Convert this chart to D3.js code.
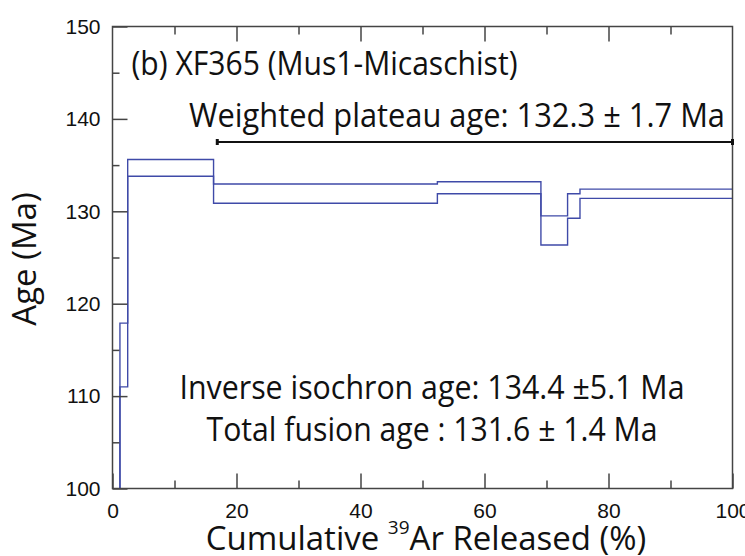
<!DOCTYPE html>
<html lang="en">
<head>
    <meta charset="UTF-8">
    <title>XF365 Ar-Ar age spectrum</title>
    <script src="https://cdnjs.cloudflare.com/ajax/libs/d3/7.8.5/d3.min.js"></script>
    <style>
        body {
            margin: 0;
            background: #ffffff;
            font-family: 'Open Sans', sans-serif;
        }
        .tick text {
            font-size: 21px;
            fill: #111;
        }
        .tick line, .frame {
            stroke: #444;
            stroke-width: 1.5px;
        }
        .step {
            fill: none;
            stroke: #3f4aa8;
            stroke-width: 1.4px;
        }
        .note {
            fill: #111;
        }
    </style>
</head>
<body>
    <div id="chart"></div>
    <script>
        // cumulative 39Ar released (%) at the start of each heating step, last value closes the spectrum
        const stepBounds = [0, 1.2, 2.45, 16.3, 52.4, 69.1, 73.4, 75.4, 100];
        // age envelope (Ma) of each step: upper and lower bound
        const ageUpper = [96, 117.9, 135.6, 132.95, 133.2, 129.5, 131.9, 132.4];
        const ageLower = [88, 111.0, 133.8, 130.87, 131.9, 126.35, 129.24, 131.4];

        // plateau bar: steps included and its drawn level
        const plateauRange = [16.9, 100];
        const plateauLevel = 137.5;

        const xMajor = [0, 20, 40, 60, 80, 100];
        const xMinor = [10, 30, 50, 70, 90];
        const yMajor = [100, 110, 120, 130, 140, 150];
        const yMinor = [105, 115, 125, 135, 145];

        const W = 745, H = 556;
        const margin = {top: 26.5, right: 12.5, bottom: 67.5, left: 112.5};
        const w = W - margin.left - margin.right;
        const h = H - margin.top - margin.bottom;

        const x = d3.scaleLinear().domain([0, 100]).range([0, w]);
        const y = d3.scaleLinear().domain([100, 150]).range([h, 0]);

        const svg = d3.select("#chart").append("svg")
            .attr("width", W)
            .attr("height", H);

        const g = svg.append("g")
            .attr("transform", `translate(${margin.left},${margin.top})`);

        g.append("clipPath").attr("id", "plot")
            .append("rect").attr("width", w).attr("height", h);

        // age spectrum: upper and lower envelopes as stepped lines
        const steps = ageUpper.map((u, i) => ({x: stepBounds[i], upper: u, lower: ageLower[i]}));
        const last = steps[steps.length - 1];
        const pts = steps.concat([{x: stepBounds[stepBounds.length - 1], upper: last.upper, lower: last.lower}]);

        ["upper", "lower"].forEach(k => {
            g.append("path")
                .datum(pts)
                .attr("class", "step")
                .attr("clip-path", "url(#plot)")
                .attr("d", d3.line().curve(d3.curveStepAfter)
                    .x(d => x(d.x))
                    .y(d => y(d[k])));
        });

        // axes, ticks pointing inward
        const axB = g.append("g").attr("transform", `translate(0,${h})`);
        axB.call(d3.axisBottom(x).tickValues(xMajor).tickSize(-15).tickPadding(15).tickFormat(d3.format("d")));
        axB.append("g").call(d3.axisBottom(x).tickValues(xMinor).tickSize(-8).tickFormat(""));

        const axT = g.append("g");
        axT.call(d3.axisTop(x).tickValues(xMajor.slice(1, -1)).tickSize(-15).tickFormat(""));
        axT.append("g").call(d3.axisTop(x).tickValues(xMinor).tickSize(-8).tickFormat(""));

        const axL = g.append("g");
        axL.call(d3.axisLeft(y).tickValues(yMajor).tickSize(-15).tickPadding(12).tickFormat(d3.format("d")));
        axL.append("g").call(d3.axisLeft(y).tickValues(yMinor).tickSize(-7).tickFormat(""));

        g.selectAll(".domain").remove();

        g.append("rect")
            .attr("class", "frame")
            .attr("width", w)
            .attr("height", h)
            .attr("fill", "none");

        // plateau bar
        const py = y(plateauLevel);
        g.append("line")
            .attr("x1", x(plateauRange[0])).attr("x2", x(plateauRange[1]))
            .attr("y1", py).attr("y2", py)
            .attr("stroke", "#111").attr("stroke-width", 2);
        g.selectAll(".cap").data(plateauRange).enter().append("line")
            .attr("class", "cap")
            .attr("x1", d => x(d)).attr("x2", d => x(d))
            .attr("y1", py - 3).attr("y2", py + 3)
            .attr("stroke", "#111").attr("stroke-width", 3);

        // labels (widths fitted to the reference lettering)
        function note(txt, px, py, size, len, anchor) {
            return svg.append("text").attr("class", "note")
                .attr("x", px).attr("y", py)
                .attr("text-anchor", anchor || "start")
                .attr("textLength", len)
                .attr("lengthAdjust", "spacingAndGlyphs")
                .style("font-size", size + "px")
                .text(txt);
        }

        note("(b) XF365 (Mus1-Micaschist)", 131.5, 75, 32.5, 386);
        note("Weighted plateau age: 132.3 \u00b1 1.7 Ma", 189, 127, 32.5, 536);
        note("Inverse isochron age: 134.4 \u00b15.1 Ma", 432, 399, 32.5, 505, "middle");
        note("Total fusion age : 131.6 \u00b1 1.4 Ma", 432, 441, 32.5, 451, "middle");

        const xt = svg.append("text").attr("class", "note")
            .attr("x", 426).attr("y", 550)
            .attr("text-anchor", "middle")
            .style("font-size", "33px");
        xt.append("tspan").text("Cumulative ");
        xt.append("tspan").attr("dy", -16).style("font-size", "19px").text("39");
        xt.append("tspan").attr("dy", 16).text("Ar Released (%)");

        svg.append("text").attr("class", "note")
            .attr("transform", "translate(36,259) rotate(-90)")
            .attr("text-anchor", "middle")
            .style("font-size", "33px")
            .text("Age (Ma)");
    </script>
</body>
</html>
